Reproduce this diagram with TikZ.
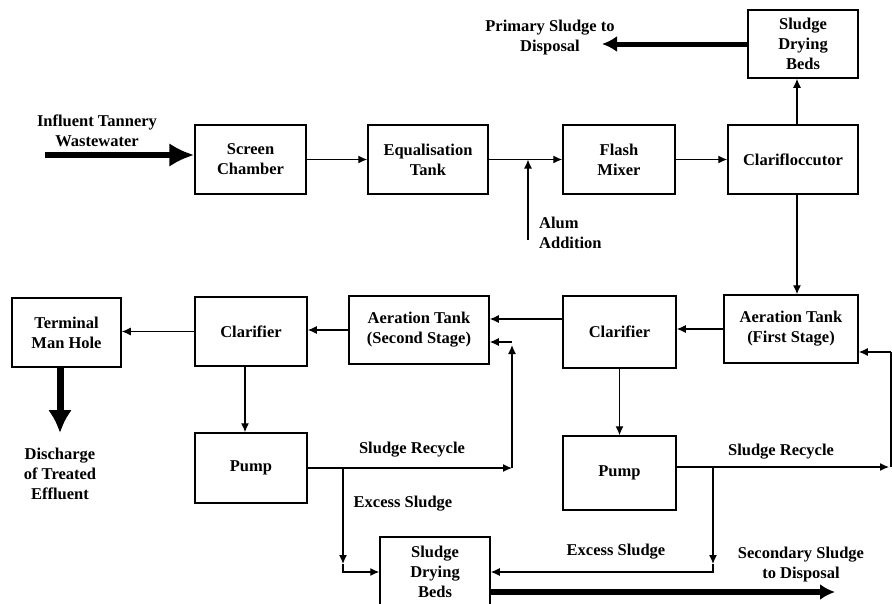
\documentclass[tikz,border=0pt]{standalone}
\usepackage{fontspec}
\setmainfont{Liberation Serif}
\usetikzlibrary{arrows.meta}
\newcommand\flowfont{\bfseries\fontsize{16.5}{20}\selectfont}
\begin{document}
\begin{tikzpicture}[x=1pt,y=-1pt,
  blk/.style={draw, line width=1.5pt, inner sep=0pt, align=center, font=\flowfont},
  lab/.style={inner sep=0pt, align=center, font=\flowfont},
  flow/.style={line width=1.3pt, -{Latex[length=9pt,width=8pt]}},
  pipe/.style={line width=1.3pt},
  heavy/.style={line width=5pt, -{Latex[length=15pt,width=16pt]}},
  heavyin/.style={line width=5.5pt, -{Latex[length=25pt,width=24pt]}},
  heavydown/.style={line width=7pt, -{Latex[length=23pt,width=24pt]}}
]
\useasboundingbox (0,0) rectangle (892,603);

% process units
\node[blk, minimum width=111pt, minimum height=69pt] (screen) at (250.5,159.5) {Screen\\Chamber};
\node[blk, minimum width=120pt, minimum height=69pt] (equal) at (428,159.5) {Equalisation\\Tank};
\node[blk, minimum width=112pt, minimum height=69pt] (flash) at (619,159.5) {Flash\\Mixer};
\node[blk, minimum width=130pt, minimum height=69pt] (clf) at (793,159.5) {Clarifloccutor};
\node[blk, minimum width=110pt, minimum height=68pt] (sdb1) at (803,44) {Sludge\\Drying\\Beds};
\node[blk, minimum width=134pt, minimum height=68pt] (at1) at (791,329) {Aeration Tank\\(First Stage)};
\node[blk, minimum width=113pt, minimum height=72pt] (clr) at (619.5,332) {Clarifier};
\node[blk, minimum width=140pt, minimum height=68pt] (at2) at (419,330) {Aeration Tank\\(Second Stage)};
\node[blk, minimum width=112pt, minimum height=69pt] (cll) at (251,331.5) {Clarifier};
\node[blk, minimum width=109pt, minimum height=69pt] (tmh) at (66.5,332.5) {Terminal\\Man Hole};
\node[blk, minimum width=112pt, minimum height=70pt] (pumpL) at (251,468) {Pump};
\node[blk, minimum width=113pt, minimum height=74pt] (pumpR) at (619.5,473) {Pump};
\node[blk, minimum width=110pt, minimum height=70pt] (sdb2) at (435,572) {Sludge\\Drying\\Beds};

% labels
\node[lab] (tin) at (97,131) {Influent Tannery\\Wastewater};
\node[lab] (tprim) at (550,38) {Primary Sludge to\\Disposal};
\node[lab, anchor=west, align=left] (talum) at (539,233) {Alum\\Addition};
\node[lab] (tdis) at (60,474) {Discharge\\of Treated\\Effluent};
\node[lab] (trl) at (412,450) {Sludge Recycle};
\node[lab] (tel) at (403,504) {Excess Sludge};
\node[lab] (trr) at (781,452) {Sludge Recycle};
\node[lab] (ter) at (616,552) {Excess Sludge};
\node[lab] (tsec) at (801,565) {Secondary Sludge\\to Disposal};

% free ends and bends
\coordinate (inf) at (45,155);
\coordinate (alum) at (528,240);
\coordinate (prim) at (602,44);
\coordinate (dis) at (60,433);
\coordinate (rl) at (512,468);
\coordinate (ru) at (512,342);
\coordinate (el) at (343,468);
\coordinate (eb) at (343,572);
\coordinate (rr) at (889,467);
\coordinate (rb) at (891,467);
\coordinate (rt) at (891,352);
\coordinate (er) at (713,467);
\coordinate (erb) at (713,572);
\coordinate (sec) at (835,592);

% main line
\draw[heavyin] (inf) -- (inf -| screen.west);
\draw[flow] (screen) -- (equal);
\draw[flow] (equal) -- (flash);
\draw[flow] (alum) -- (alum |- equal.east);
\draw[flow] (flash) -- (clf);
\draw[flow] ([xshift=4pt]clf.north) -- ([xshift=4pt]clf.north |- sdb1.south);
\draw[heavy] (sdb1.west) -- (prim);
\draw[flow] ([xshift=4pt]clf.south) -- ([xshift=4pt]clf.south |- at1.north);
\draw[flow] (at1.west) -- (at1.west -| clr.east);
\draw[flow] ([yshift=13pt]clr.west) -- ([yshift=13pt]clr.west -| at2.east);
\draw[flow] (at2.west) -- (at2.west -| cll.east);
\draw[flow] (cll.west) -- (cll.west -| tmh.east);
\draw[heavydown] (tmh.south -| dis) -- (dis);

% clarifier underflow
\draw[flow] ([xshift=-6pt]cll.south) -- ([xshift=-6pt]cll.south |- pumpL.north);
\draw[flow] (clr.south) -- (pumpR.north);

% second stage recycle and excess sludge
\draw[flow] (pumpL.east) -- (rl);
\draw[flow] (rl) -- ([yshift=-3pt]ru);
\draw[flow] (ru) -- (ru -| at2.east);
\draw[flow] (el) -- ([yshift=8pt]eb);
\draw[flow] ([yshift=8pt]eb) -- (eb) -- (eb -| sdb2.west);

% first stage recycle and excess sludge
\draw[flow] (pumpR.east |- rr) -- (rr);
\draw[pipe] (rb) -- (rt);
\draw[flow] (rt) -- (rt -| at1.east);
\draw[flow] (er) -- ([yshift=8pt]erb);
\draw[flow] ([yshift=8pt]erb) -- (erb) -- (erb -| sdb2.east);

% secondary sludge out
\draw[heavy, line width=6pt] (sdb2.east |- sec) -- (sec);
\end{tikzpicture}
\end{document}
